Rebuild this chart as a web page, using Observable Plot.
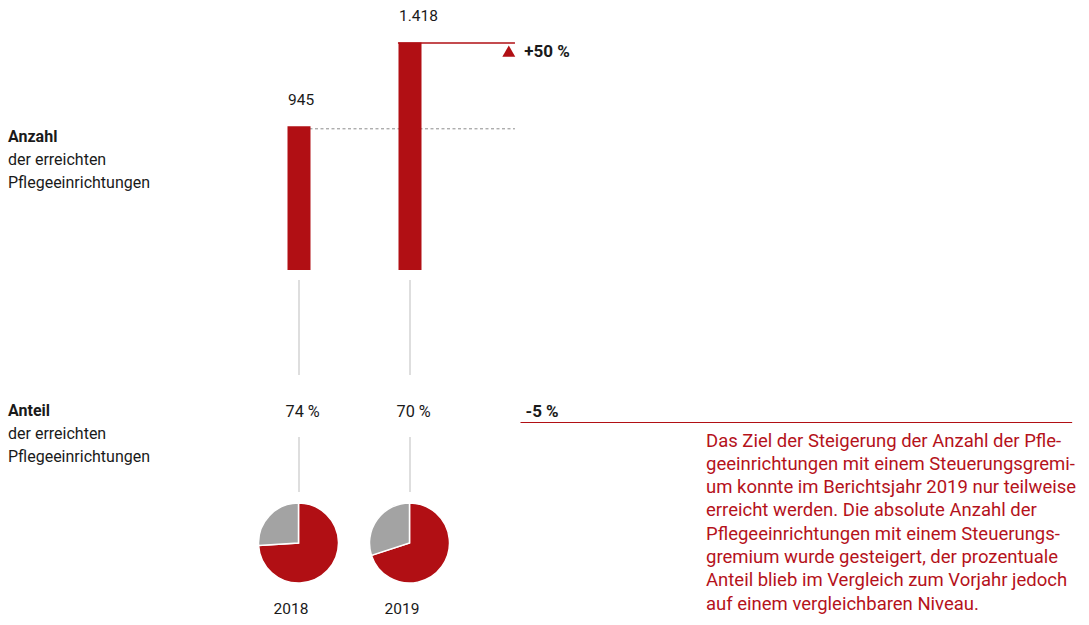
<!DOCTYPE html>
<html><head><meta charset="utf-8">
<script src="https://cdn.jsdelivr.net/npm/d3@7"></script>
<script src="https://cdn.jsdelivr.net/npm/@observablehq/plot@0.6"></script>
<style>
body{margin:0;background:#fff;font-family:Roboto, sans-serif;}
#wrap{position:relative;width:1089px;height:625px;overflow:hidden}
#wrap svg{position:absolute;left:0}
.lbl{position:absolute;left:8px;font-size:16px;line-height:23px;color:#1a1a1a;white-space:nowrap}
.lbl b{font-weight:700}
#para{position:absolute;left:706px;top:429.5px;font-size:18.5px;line-height:23.3px;color:#b5121b;white-space:nowrap}
</style></head><body>
<div id="wrap"></div>
<script>
// ---- data ----
const years = [2018, 2019];
const anzahl = [945, 1418];
const anzahlText = ["945", "1.418"];
const anteil = [74, 70];
const anteilText = ["74 %", "70 %"];
const anzahlChange = "+50 %";
const anteilChange = "-5 %";
const rowAnzahl = ["Anzahl", "der erreichten", "Pflegeeinrichtungen"];
const rowAnteil = ["Anteil", "der erreichten", "Pflegeeinrichtungen"];
const paragraph = [
  "Das Ziel der Steigerung der Anzahl der Pfle-",
  "geeinrichtungen mit einem Steuerungsgremi-",
  "um konnte im Berichtsjahr 2019 nur teilweise",
  "erreicht werden. Die absolute Anzahl der",
  "Pflegeeinrichtungen mit einem Steuerungs-",
  "gremium wurde gesteigert, der prozentuale",
  "Anteil blieb im Vergleich zum Vorjahr jedoch",
  "auf einem vergleichbaren Niveau."
];

const red = "#b10f14";
const countData = years.map((year, i) => ({year, value: anzahl[i], label: anzahlText[i]}));
const shareData = years.map((year, i) => ({year, value: anteil[i], label: anteilText[i]}));
const xScale = {domain: [2018, 2019], range: [298.5, 409.5], axis: null};
const style = {fontFamily: "Roboto, sans-serif", fontSize: "15.5px", color: "#1a1a1a", background: "transparent", overflow: "visible"};

const plotA = Plot.plot({
  width: 1089, height: 375, margin: 0,
  x: xScale,
  y: {domain: [134, 1418], range: [270, 42.5], clamp: true, axis: null},
  style,
  marks: [
    Plot.ruleX(countData, {x: "year", stroke: "#bdbdbd", insetTop: 280}),
    Plot.ruleY([anzahl[0]], {x1: years[0], x2: 2019.95, stroke: "#8c8c8c", strokeDasharray: "3,2.5", dy: 2}),
    Plot.ruleX(countData, {x: "year", y1: 0, y2: "value", stroke: red, strokeWidth: 23}),
    Plot.ruleY([anzahl[1]], {x1: 2018.896, x2: 2019.95, stroke: red, strokeWidth: 1.5}),
    Plot.dot([anzahl[1]], {x: 2019.89, y: d => d, symbol: "triangle", r: 4.8, fill: red, stroke: "none", dy: 10}),
    Plot.text([anzahlChange], {x: 2020.03, y: anzahl[1], text: d => d, textAnchor: "start", fontWeight: "bold", fontSize: 17, dy: 9}),
    Plot.text(countData, {x: "year", y: "value", text: "label", textAnchor: "start", dx: -11, dy: -27})
  ]
});

function pies(index, scales, values, dimensions) {
  const g = d3.create("svg:g");
  const arc = d3.arc().innerRadius(0).outerRadius(40);
  const pie = d3.pie().sort(null).value(d => d);
  shareData.forEach(d => {
    const cx = scales.x(d.year), cy = 168;
    const gg = g.append("g").attr("transform", `translate(${cx},${cy})`);
    gg.selectAll("path").data(pie([d.value, 100 - d.value])).join("path")
      .attr("d", arc)
      .attr("fill", (p, i) => i === 0 ? red : "#a3a3a3")
      .attr("stroke", "#fff").attr("stroke-width", 1.5);
  });
  return g.node();
}

const plotB = Plot.plot({
  width: 1089, height: 250, margin: 0,
  x: xScale,
  y: {type: "point", domain: ["Anteil"], range: [47, 47], axis: null},
  style,
  marks: [
    Plot.ruleX(shareData, {x: "year", stroke: "#bdbdbd", insetTop: 62, insetBottom: 133}),
    Plot.text(shareData, {x: "year", y: () => "Anteil", text: "label", textAnchor: "start", fontSize: 16.3, dx: -13.5, dy: -11}),
    Plot.ruleY(["Anteil"], {x1: 2020.0, x2: 2024.97, stroke: red, strokeWidth: 1}),
    Plot.text([anteilChange], {x: 2020.04, y: () => "Anteil", text: d => d, textAnchor: "start", fontWeight: "bold", fontSize: 17, dy: -11}),
    pies,
    Plot.text(shareData, {x: "year", text: d => String(d.year), frameAnchor: "bottom", dy: -12, dx: -8})
  ]
});

const wrap = document.getElementById("wrap");
plotA.style.top = "0px";
plotB.style.top = "375px";
wrap.appendChild(plotA);
wrap.appendChild(plotB);

function addLabel(lines, top) {
  const div = document.createElement("div");
  div.className = "lbl";
  div.style.top = top + "px";
  div.innerHTML = lines.map((l, i) => i === 0 ? `<b>${l}</b>` : l).join("<br>");
  wrap.appendChild(div);
}
addLabel(rowAnzahl, 124.5);
addLabel(rowAnteil, 398.5);

const para = document.createElement("div");
para.id = "para";
para.innerHTML = paragraph.join("<br>");
wrap.appendChild(para);
</script>
</body></html>
